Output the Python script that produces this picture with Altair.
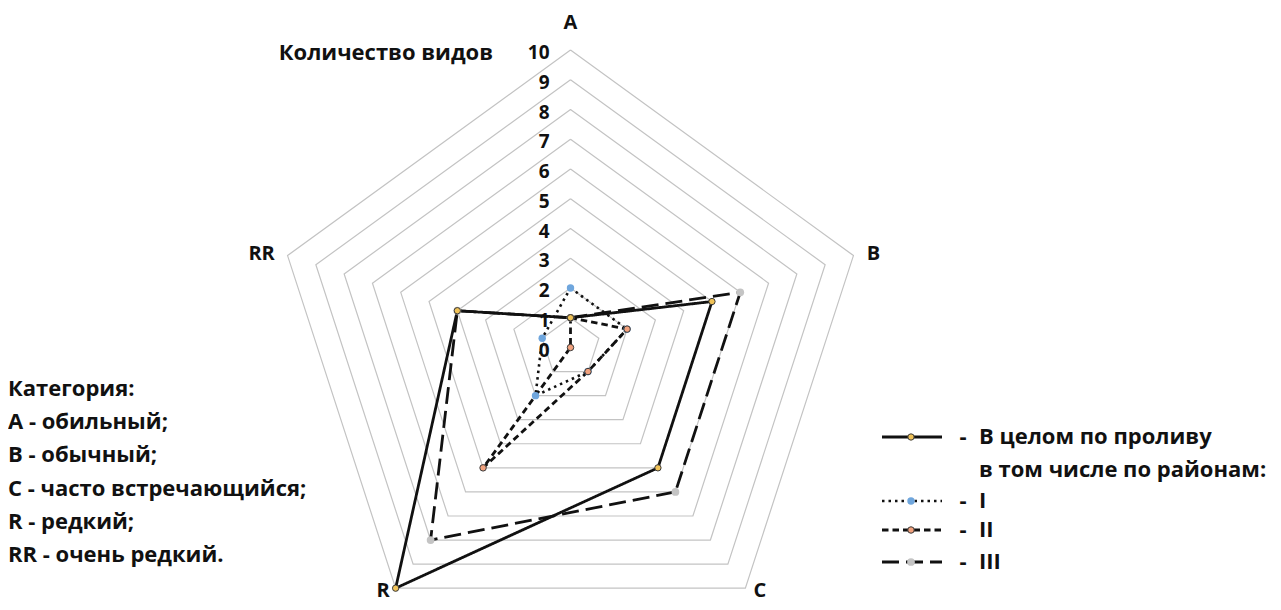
import math
import altair as alt
import pandas as pd

# ---------------- data ----------------
categories = ["A", "B", "C", "R", "RR"]
series_names = ["В целом по проливу", "I", "II", "III"]
total_values = [1, 5, 5, 10, 4]
region_I_values = [2, 2, 1, 2, 1]
region_II_values = [1, 2, 1, 5, 0]
region_III_values = [1, 6, 6, 8, 4]
tick_values = list(range(0, 11))
grid_levels = list(range(1, 11))
axis_title = "Количество видов"
legend_subtitle = "в том числе по районам:"
category_notes = [
    "Категория:",
    "A - обильный;",
    "B - обычный;",
    "C - часто встречающийся;",
    "R - редкий;",
    "RR - очень редкий.",
]

# ---------------- layout constants ----------------
W, H = 1265, 594
CX, CY = 562.5, 339.5          # centre of the radar in plot pixels
UNIT = 29.75                   # pixels per value unit
XDOM = [-CX / UNIT, (W - CX) / UNIT]
YDOM = [-(H - CY) / UNIT, CY / UNIT]
FONT = "Open Sans"
FS = 22

series_values = [total_values, region_I_values, region_II_values, region_III_values]


def polygon_rows(values, name):
    rows = []
    n = len(categories)
    for i in range(n + 1):
        k = i % n
        rows.append({"series": name, "cat": categories[k], "k": k, "order": i, "value": values[k]})
    return rows


series_df = pd.DataFrame([r for v, s in zip(series_values, series_names) for r in polygon_rows(v, s)])
grid_df = pd.DataFrame([r for lv in grid_levels for r in polygon_rows([lv] * len(categories), f"g{lv}")])
tick_df = pd.DataFrame({"value": tick_values, "k": 0, "label": [str(t) for t in tick_values]})

LABEL_R = 10.6
label_shift = {"A": (0, -9), "B": (3, 4), "C": (4, -12), "R": (-2, -12), "RR": (-9, 4)}

xs = alt.Scale(domain=XDOM, nice=False, zero=False)
ys = alt.Scale(domain=YDOM, nice=False, zero=False)


def polar(chart):
    return chart.transform_calculate(
        ang="datum.k * 2 * PI / 5",
    ).transform_calculate(
        px="datum.value * sin(datum.ang)",
        py="datum.value * cos(datum.ang)",
    )


X = alt.X("px:Q", scale=xs, axis=None)
Y = alt.Y("py:Q", scale=ys, axis=None)

grid = polar(alt.Chart(grid_df)).mark_line(color="#c3c3c3", strokeWidth=1.2).encode(
    x=X, y=Y, detail="series:N", order="order:Q"
)

styles = {
    "В целом по проливу": dict(dash=[1, 0], width=2.8, fill="#f0c257", stroke="#3a3a3a", size=40, sw=1),
    "I": dict(dash=[2.5, 4], width=2.6, fill="#6fa6dd", stroke="#6fa6dd", size=55, sw=0),
    "II": dict(dash=[6.5, 4], width=2.8, fill="#f2a27e", stroke="#3a3a3a", size=42, sw=1),
    "III": dict(dash=[17, 7], width=2.8, fill="#c4c4c4", stroke="#c4c4c4", size=60, sw=0),
}

line_layers = []
point_layers = []
for name in ["III", "I", "II", "В целом по проливу"]:
    st = styles[name]
    base = polar(alt.Chart(series_df).transform_filter(alt.datum.series == name))
    line_layers.append(
        base.mark_line(color="#111111", strokeWidth=st["width"], strokeDash=st["dash"], strokeCap="butt").encode(
            x=X, y=Y, order="order:Q"
        )
    )
    point_layers.append(
        base.transform_filter(alt.datum.order < 5).mark_point(
            shape="circle", filled=True, fill=st["fill"], stroke=st["stroke"], strokeWidth=st["sw"],
            size=st["size"], opacity=1,
        ).encode(x=X, y=Y)
    )

ticks = polar(alt.Chart(tick_df)).mark_text(
    font=FONT, fontSize=19, fontWeight="bold", align="right", baseline="middle", dx=-21, dy=3, color="#111111"
).encode(x=X, y=Y, text="label:N")

cat_layers = []
for k, cat in enumerate(categories):
    ddx, ddy = label_shift[cat]
    cdf = pd.DataFrame({"cat": [cat], "k": [k], "value": [LABEL_R]})
    cat_layers.append(
        polar(alt.Chart(cdf)).mark_text(
            font=FONT, fontSize=20, fontWeight="bold", align="center", baseline="middle", color="#111111",
            dx=ddx, dy=ddy,
        ).encode(x=X, y=Y, text="cat:N")
    )

title_txt = alt.Chart(pd.DataFrame({"t": [axis_title]})).mark_text(
    font=FONT, fontSize=FS, fontWeight="bold", align="right", baseline="middle", color="#111111"
).encode(x=alt.value(485), y=alt.value(45), text="t:N")

notes_df = pd.DataFrame({"t": category_notes, "row": list(range(len(category_notes)))})
notes = alt.Chart(notes_df).transform_calculate(py="381 + datum.row * 33.2").mark_text(
    font=FONT, fontSize=FS, fontWeight="bold", align="left", baseline="middle", color="#111111"
).encode(x=alt.value(0), y=alt.Y("py:Q", scale=None), text="t:N")

# legend (drawn as a small table of rows)
legend_rows = [("В целом по проливу", 429), ("I", 493), ("II", 522), ("III", 554)]
legend_layers = []
for name, ly in legend_rows:
    st = styles[name]
    ldf = pd.DataFrame({"s": [name]})
    legend_layers.append(
        alt.Chart(ldf).mark_rule(color="#111111", strokeWidth=st["width"], strokeDash=st["dash"], strokeCap="butt").encode(
            x=alt.value(874), x2=alt.value(934), y=alt.value(ly)
        )
    )
    legend_layers.append(
        alt.Chart(ldf).mark_point(shape="circle", filled=True, fill=st["fill"], stroke=st["stroke"],
                                  strokeWidth=st["sw"], size=st["size"], opacity=1).encode(
            x=alt.value(903), y=alt.value(ly)
        )
    )
    legend_layers.append(
        alt.Chart(ldf).mark_text(font=FONT, fontSize=FS, fontWeight="bold", align="center", baseline="middle",
                                 color="#111111").encode(x=alt.value(955), y=alt.value(ly), text=alt.value("-"))
    )
    legend_layers.append(
        alt.Chart(ldf).mark_text(font=FONT, fontSize=FS, fontWeight="bold", align="left", baseline="middle",
                                 color="#111111").encode(x=alt.value(971), y=alt.value(ly), text="s:N")
    )
legend_layers.append(
    alt.Chart(pd.DataFrame({"t": [legend_subtitle]})).mark_text(
        font=FONT, fontSize=FS, fontWeight="bold", align="left", baseline="middle", color="#111111"
    ).encode(x=alt.value(971), y=alt.value(462), text="t:N")
)

chart = alt.layer(
    grid, *line_layers, *point_layers, ticks, *cat_layers, title_txt, notes, *legend_layers
).properties(
    width=W, height=H, autosize=alt.AutoSizeParams(type="none"), padding=0, background="white"
).configure_view(stroke=None)

chart.save("out.html", embed_options={"renderer": "svg", "actions": False})
